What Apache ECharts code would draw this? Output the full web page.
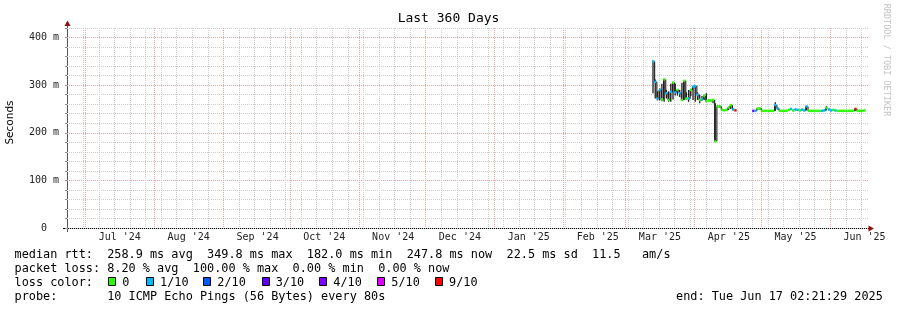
<!DOCTYPE html>
<html><head><meta charset="utf-8">
<script src="https://cdn.jsdelivr.net/npm/echarts@6/dist/echarts.min.js"></script>
<style>html,body{margin:0;padding:0;background:#fff}#c{width:897px;height:310px}</style>
</head><body><div id="c"></div>
<script>
// ---------- data ----------
const START = Date.UTC(2024, 5, 22, 18, 26);
const END = Date.UTC(2025, 5, 18, 2, 13);
const DAY = 86400000;

const monthStarts = ['2024-07-01','2024-08-01','2024-09-01','2024-10-01','2024-11-01','2024-12-01',
  '2025-01-01','2025-02-01','2025-03-01','2025-04-01','2025-05-01','2025-06-01'];
const monthLabels = ["Jul '24","Aug '24","Sep '24","Oct '24","Nov '24","Dec '24",
  "Jan '25","Feb '25","Mar '25","Apr '25","May '25","Jun '25"];
const firstWeekStart = '2024-06-30';

// segment 1 (daily samples starting seg1Start), values in ms
const seg1Start = '2025-03-13';
const seg1Median = [349.8,307,272,290,270,312,283,269,286,305,285,290,283,269,309,272,272,290,297,298,280,269,271,277,267,268,267,269,182.0,255,255,248,247,248,253,258,249,247];
const seg1Low    = [283,272,268,268,266,265,272,265,265,270,278,278,275,269,269,269,265,277,269,265,269,262,267,269,264,266,265,262,182,252,252,246,246,246,248,250,247,246];
const seg1High   = [352,312,287,293,303,313,290,287,303,307,303,292,290,305,310,285,290,292,298,300,285,280,277,280,283,271,270,270,262,258,257,250,249,250,254,259,251,248];
const seg1Loss   = [1,1,1,1,0,0,1,0,1,0,1,0,1,0,0,0,1,0,1,1,1,0,1,0,0,0,0,0,0,0,0,0,0,0,0,0,1,9];

// segment 2
const seg2Start = '2025-04-27';
const seg2Median = [246,246,251,251,246,246,246,246,246,246,258,251,246,246,246,246,248,250,247,249,248,247,249,247,255,246,246,246,246,246,246,246,247,252,249,247,248,247,246,246,246,246,246,246,246,246,250,246,246,246,247];
const seg2Low    = [245,245,249,249,245,245,245,245,245,245,246,249,245,245,245,245,246,248,245,247,246,245,247,245,247,245,245,245,245,245,245,245,245,247,247,245,246,245,245,245,245,245,245,245,245,245,246,245,245,245,246];
const seg2High   = [247,247,252,252,247,247,247,247,247,247,264,253,247,247,247,247,249,251,248,250,249,248,250,248,257,247,247,247,247,247,247,247,248,256,250,248,249,248,247,247,247,247,247,247,247,247,252,247,247,247,248];
const seg2Loss   = [4,1,0,0,0,0,0,0,0,0,1,1,0,0,0,0,0,1,0,1,1,0,1,1,1,0,0,0,0,0,0,1,1,0,1,1,0,1,0,0,0,0,0,0,0,0,9,0,0,0,0];

const lossLevels = [0,1,2,3,4,5,9];
const lossLabels = ['0','1/10','2/10','3/10','4/10','5/10','9/10'];
const lossColors = ['#26ff00','#00b8ff','#0059ff','#5e00ff','#7e00ff','#dd00ff','#ff0000'];

const statLines = [
  'median rtt:  258.9 ms avg  349.8 ms max  182.0 ms min  247.8 ms now  22.5 ms sd  11.5   am/s',
  'packet loss: 8.20 % avg  100.00 % max  0.00 % min  0.00 % now',
  'loss color:',
  'probe:       10 ICMP Echo Pings (56 Bytes) every 80s'
];
const endText = 'end: Tue Jun 17 02:21:29 2025';
const titleText = 'Last 360 Days';
const yName = 'Seconds';
const sideText = 'RRDTOOL / TOBI OETIKER';

// ---------- build ----------
const utc = s => { const [y,m,d] = s.split('-').map(Number); return Date.UTC(y, m-1, d); };
const samples = [];
function addSeg(start, med, lo, hi, loss) {
  const t0 = utc(start);
  med.forEach((v, i) => {
    const prev = i > 0 ? med[i-1] : null;
    samples.push([t0 + i*DAY, v, lo[i], hi[i], loss[i], prev]);
  });
}
addSeg(seg1Start, seg1Median, seg1Low, seg1High, seg1Loss);
addSeg(seg2Start, seg2Median, seg2Low, seg2High, seg2Loss);

function lossColor(l) {
  let c = lossColors[0];
  lossLevels.forEach((lv, k) => { if (l >= lv) c = lossColors[k]; });
  return c;
}

const monthTs = monthStarts.map(utc);
const monthMid = monthTs.map(t => t + 15.5*DAY);
const weekTs = [];
for (let t = utc(firstWeekStart); t < END; t += 7*DAY) weekTs.push(t);

const MONO = "'DejaVu Sans Mono', monospace";
const GRAY = '#cdcdcd', RED = '#eea2a2';
const SMOKE = '#1e1e1e';

function vline(color) {
  return (params, api) => {
    const cs = params.coordSys;
    const x = Math.round(api.coord([api.value(0), 0])[0]) + 0.5;
    return { type: 'line', silent: true,
      shape: { x1: x, y1: cs.y, x2: x, y2: cs.y + cs.height },
      style: { stroke: color, lineWidth: 1, lineDash: [1, 1] } };
  };
}

const chart = echarts.init(document.getElementById('c'), null, { renderer: 'canvas' });

const graphics = [];
graphics.push({ type: 'text', x: 448.5, y: 19, style: { text: titleText, font: '13px ' + MONO, fill: '#000', align: 'center', verticalAlign: 'middle' } });
graphics.push({ type: 'text', x: 10.5, y: 122.5, rotation: Math.PI/2, style: { text: yName, font: "10.5px 'DejaVu Sans', sans-serif", fill: '#000', align: 'center', verticalAlign: 'middle' } });
graphics.push({ type: 'text', x: 886, y: 60, rotation: -Math.PI/2, style: { text: sideText, font: '8.5px ' + MONO, fill: '#c4c4c4', align: 'center', verticalAlign: 'middle' } });
statLines.forEach((s, k) => {
  graphics.push({ type: 'text', x: 14.5, y: 254.5 + 14*k, style: { text: s, font: '11.85px ' + MONO, fill: '#000', verticalAlign: 'middle' } });
});
graphics.push({ type: 'text', x: 676, y: 296.5, style: { text: endText, font: '11.85px ' + MONO, fill: '#000', verticalAlign: 'middle' } });
const boxX = [108, 146, 203, 262, 319, 377, 435];
const labX = [122.3, 160, 217.3, 275.7, 333.3, 391.3, 449];
lossLabels.forEach((l, k) => {
  graphics.push({ type: 'rect', shape: { x: boxX[k] + 0.5, y: 277.5, width: 7, height: 8 }, style: { fill: lossColors[k], stroke: '#000', lineWidth: 1 } });
  graphics.push({ type: 'text', x: labX[k], y: 282.5, style: { text: l, font: '11.85px ' + MONO, fill: '#000', verticalAlign: 'middle' } });
});
// axis lines + arrows
graphics.push({ type: 'line', shape: { x1: 67.5, y1: 232, x2: 67.5, y2: 25 }, style: { stroke: '#555', lineWidth: 1 } });
graphics.push({ type: 'line', shape: { x1: 63, y1: 228.5, x2: 869, y2: 228.5 }, style: { stroke: '#000', lineWidth: 1 } });
graphics.push({ type: 'polygon', shape: { points: [[67.5, 20.5], [64.5, 26], [70.5, 26]] }, style: { fill: '#8b1010' } });
graphics.push({ type: 'polygon', shape: { points: [[874, 228.5], [868.5, 225.5], [868.5, 231.5]] }, style: { fill: '#8b1010' } });

chart.setOption({
  animation: false,
  backgroundColor: '#fff',
  grid: { left: 67, top: 28, width: 801, height: 200, containLabel: false },
  xAxis: {
    type: 'value', min: START, max: END,
    axisLine: { show: false },
    axisTick: { show: false },
    splitLine: { show: false },
    axisLabel: {
      customValues: monthMid, margin: 4, hideOverlap: false,
      fontFamily: MONO, fontSize: 10, color: '#222',
      formatter: v => { const i = monthMid.indexOf(+v); return i >= 0 ? monthLabels[i] : ''; }
    }
  },
  yAxis: [
    { type: 'value', min: 0, max: 420, interval: 20,
      axisLine: { show: false }, axisLabel: { show: false },
      axisTick: { show: true, length: 2, lineStyle: { color: '#888' } },
      splitLine: { show: true, lineStyle: { color: GRAY, width: 1, type: [1, 1] } } },
    { type: 'value', min: 0, max: 420, interval: 100, position: 'left',
      axisLine: { show: false }, axisTick: { show: false },
      axisLabel: { margin: 8, fontFamily: MONO, fontSize: 10, color: '#222', showMaxLabel: false,
        formatter: v => v === 0 ? '0  ' : (v % 100 === 0 ? v + ' m' : '') },
      splitLine: { show: true, showMinLine: false, showMaxLine: false, lineStyle: { color: RED, width: 1, type: [1, 1] } } }
  ],
  series: [
    { type: 'custom', name: 'weeks', z: 1, silent: true, data: weekTs.map(t => [t, 0]),
      encode: { x: 0, y: 1 }, renderItem: vline(GRAY) },
    { type: 'custom', name: 'months', z: 2, silent: true, data: monthTs.map(t => [t, 0]),
      encode: { x: 0, y: 1 }, renderItem: vline(RED) },
    { type: 'custom', name: 'rtt', z: 5, clip: true, data: samples,
      encode: { x: 0, y: 1 },
      renderItem: (params, api) => {
        const t = api.value(0), med = api.value(1), lo = api.value(2), hi = api.value(3), loss = api.value(4);
        const prev = samples[params.dataIndex][5];
        const a = api.coord([t, hi]), b = api.coord([t, lo]);
        const m = api.coord([t, med]), m2 = api.coord([t + DAY, med]);
        const col = lossColor(loss);
        const kids = [];
        kids.push({ type: 'rect', shape: { x: a[0] + 0.2, y: a[1], width: 1.3, height: Math.max(1, b[1] - a[1]) }, style: { fill: SMOKE } });
        if (prev !== null) {
          const p = api.coord([t, prev]);
          const y1 = Math.min(p[1], m[1]), y2 = Math.max(p[1], m[1]);
          if (y2 - y1 > 1.5) kids.push({ type: 'rect', shape: { x: m[0] - 0.3, y: y1, width: 1.1, height: y2 - y1 }, style: { fill: SMOKE } });
        }
        kids.push({ type: 'rect', shape: { x: m[0], y: m[1] - 1.25, width: m2[0] - m[0], height: 2.5 }, style: { fill: col } });
        return { type: 'group', children: kids };
      } }
  ],
  graphic: graphics
});
</script></body></html>
